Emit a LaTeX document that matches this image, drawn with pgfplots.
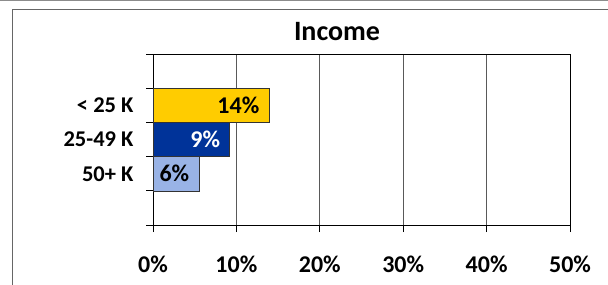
\documentclass[border=0pt]{standalone}
\usepackage{pgfplots}
\pgfplotsset{compat=1.18}
\usepackage{fontspec}
\setmainfont{Carlito}
\definecolor{cyel}{HTML}{FFCC00}
\definecolor{cdblue}{HTML}{003399}
\definecolor{clblue}{HTML}{99B3E6}
\begin{document}
\begin{tikzpicture}
\useasboundingbox (0,0) rectangle (608pt,-284pt);
\draw[black!45, line width=1.2pt] (0,-0.6pt) -- (608pt,-0.6pt);
\draw[black!60, line width=1pt] (12.8pt,-290pt) -- (12.8pt,-9.3pt) -- (612pt,-9.3pt);
\node[font=\fontsize{28}{28}\selectfont\bfseries] at (337pt,-32pt) {Income};
\begin{axis}[
  at={(153pt,-225pt)}, anchor=south west,
  scale only axis, width=417pt, height=171pt,
  xmin=0, xmax=50, ymin=-0.5, ymax=4.5, y dir=reverse,
  xtick pos=bottom, ytick pos=left,
  xtick={0,10,...,50}, xticklabels={0\%,10\%,20\%,30\%,40\%,50\%},
  ytick={-0.5,0.5,...,4.5}, yticklabels={},
  extra y ticks={1,2,3}, extra y tick labels={< 25 K,25-49 K,50+ K},
  extra y tick style={major tick length=0pt, grid=none,
     yticklabel style={font=\fontsize{22.5}{22}\selectfont\bfseries, xshift=-16pt}},
  tick align=outside, major tick length=7pt,
  xmajorgrids, grid style={black!65, line width=0.9pt},
  axis line style={black, line width=0.9pt},
  tick style={black, line width=0.9pt},
  xticklabel style={font=\fontsize{24}{24}\selectfont\bfseries, yshift=-20pt},
  /pgf/number format/assume math mode=true,
  xbar, bar shift=0pt, bar width=1,
  nodes near coords, point meta=explicit symbolic,
  every node near coord/.append style={anchor=east, xshift=-6pt, font=\fontsize{24}{24}\selectfont\bfseries},
  clip=false,
]
\addplot[fill=cyel, draw=black!80, line width=0.6pt] coordinates {(13.9,1) [14\%]};
\addplot[fill=cdblue, draw=black!80, line width=0.6pt, every node near coord/.append style={text=white}] coordinates {(9.2,2) [9\%]};
\addplot[fill=clblue, draw=black!80, line width=0.6pt] coordinates {(5.5,3) [6\%]};
\end{axis}
\end{tikzpicture}
\end{document}
